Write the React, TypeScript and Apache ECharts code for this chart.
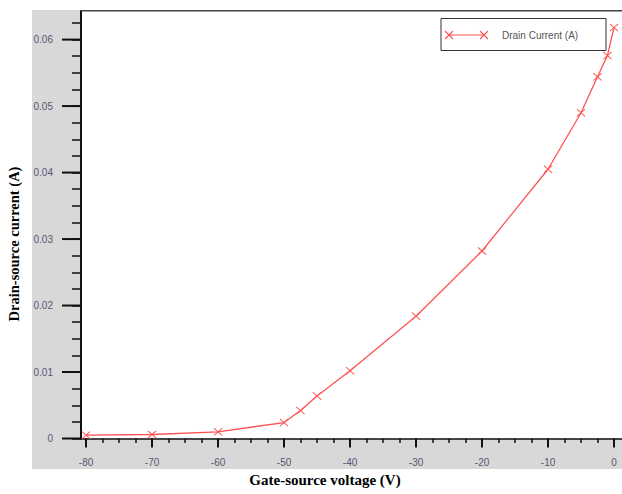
import React, { useEffect, useRef } from "react";
import * as echarts from "echarts";

// Gate-source voltage (V)
const gateVoltage = [-80, -70, -60, -50, -47.5, -45, -40, -30, -20, -10, -5, -2.5, -1, 0];
// Drain current (A)
const drainCurrent = [0.0005, 0.0006, 0.001, 0.0024, 0.0042, 0.0064, 0.0102, 0.0184, 0.0282, 0.0405, 0.049, 0.0544, 0.0576, 0.0618];

const xMajorTicks = [-80, -70, -60, -50, -40, -30, -20, -10, 0];
const xMinorTicks = [-80, -77.5, -75, -72.5, -70, -67.5, -65, -62.5, -60, -57.5, -55, -52.5, -50, -47.5, -45, -42.5, -40, -37.5, -35, -32.5, -30, -27.5, -25, -22.5, -20, -17.5, -15, -12.5, -10, -7.5, -5, -2.5, 0];
const yMajorTicks = [0, 0.01, 0.02, 0.03, 0.04, 0.05, 0.06];
const yMinorTicks = [0, 0.0025, 0.005, 0.0075, 0.01, 0.0125, 0.015, 0.0175, 0.02, 0.0225, 0.025, 0.0275, 0.03, 0.0325, 0.035, 0.0375, 0.04, 0.0425, 0.045, 0.0475, 0.05, 0.0525, 0.055, 0.0575, 0.06, 0.0625];

const seriesName = "Drain Current (A)";
const xTitle = "Gate-source voltage (V)";
const yTitle = "Drain-source current (A)";

const X_MIN = -80.76;
const X_MAX = 1.21;
const Y_MIN = 0;
const Y_MAX = 0.0643;

const RED = "#ff5252";
const TICK = "#111";
const LABEL_COLOR = "#5a5572";
const X_SYMBOL = "path://M0,0.8L0.8,0L5,4.2L9.2,0L10,0.8L5.8,5L10,9.2L9.2,10L5,5.8L0.8,10L0,9.2L4.2,5Z";

export default function App() {
  const ref = useRef<HTMLDivElement>(null);

  useEffect(() => {
    if (!ref.current) return;
    const chart = echarts.init(ref.current, null, { renderer: "svg" });

    const labelStyle = {
      color: LABEL_COLOR,
      fontSize: 10,
      fontFamily: "Liberation Sans, Arial, sans-serif",
    };

    const option: any = {
      animation: false,
      backgroundColor: "transparent",
      grid: {
        left: 81,
        right: 0,
        top: 11,
        bottom: 55.5,
        show: true,
        backgroundColor: "#ffffff",
        borderWidth: 0,
      },
      xAxis: {
        type: "value",
        min: X_MIN,
        max: X_MAX,
        position: "bottom",
        axisLine: { show: true, onZero: false, lineStyle: { color: TICK, width: 1.5 } },
        axisTick: { show: true, customValues: xMinorTicks, length: 4.5, lineStyle: { color: TICK, width: 1.5 } },
        axisLabel: { show: true, customValues: xMajorTicks, margin: 19, ...labelStyle },
        splitLine: { show: false },
      },
      yAxis: {
        type: "value",
        min: Y_MIN,
        max: Y_MAX,
        position: "left",
        axisLine: { show: true, onZero: false, lineStyle: { color: TICK, width: 2 } },
        axisTick: { show: true, customValues: yMinorTicks, length: 9, lineStyle: { color: TICK, width: 1.5 } },
        axisLabel: { show: true, customValues: yMajorTicks, margin: 28, ...labelStyle },
        splitLine: { show: false },
      },
      series: [
        {
          name: seriesName,
          type: "line",
          data: gateVoltage.map((v, i) => [v, drainCurrent[i]]),
          symbol: X_SYMBOL,
          symbolSize: [9, 8],
          showSymbol: true,
          lineStyle: { color: RED, width: 1.3 },
          itemStyle: { color: RED },
          clip: false,
          z: 3,
        },
        {
          name: "yMajorTicks",
          type: "custom",
          silent: true,
          clip: false,
          z: 5,
          data: yMajorTicks.map((v) => [X_MIN, v]),
          renderItem: (_params: any, api: any) => {
            const p = api.coord([X_MIN, api.value(1)]);
            return {
              type: "line",
              shape: { x1: p[0] - 19, y1: p[1], x2: p[0], y2: p[1] },
              style: { stroke: TICK, lineWidth: 2 },
            };
          },
        },
        {
          name: "xMajorTicks",
          type: "custom",
          silent: true,
          clip: false,
          z: 5,
          data: xMajorTicks.map((v) => [v, Y_MIN]),
          renderItem: (_params: any, api: any) => {
            const p = api.coord([api.value(0), Y_MIN]);
            return {
              type: "line",
              shape: { x1: p[0], y1: p[1], x2: p[0], y2: p[1] + 9 },
              style: { stroke: TICK, lineWidth: 2 },
            };
          },
        },
      ],
      graphic: [
        {
          type: "line",
          shape: { x1: 81, y1: 10.8, x2: 622, y2: 10.8 },
          style: { stroke: "#444", lineWidth: 1.6 },
          z: 10,
        },
        {
          type: "rect",
          shape: { x: 441, y: 18.5, width: 165, height: 32 },
          style: { fill: "#ffffff", stroke: "#333", lineWidth: 1 },
          z: 10,
        },
        {
          type: "line",
          shape: { x1: 449, y1: 35, x2: 484, y2: 35 },
          style: { stroke: RED, lineWidth: 1.2 },
          z: 11,
        },
        {
          type: "line",
          shape: { x1: 445, y1: 31, x2: 453, y2: 39 },
          style: { stroke: RED, lineWidth: 1.1 },
          z: 11,
        },
        {
          type: "line",
          shape: { x1: 445, y1: 39, x2: 453, y2: 31 },
          style: { stroke: RED, lineWidth: 1.1 },
          z: 11,
        },
        {
          type: "line",
          shape: { x1: 480, y1: 31, x2: 488, y2: 39 },
          style: { stroke: RED, lineWidth: 1.1 },
          z: 11,
        },
        {
          type: "line",
          shape: { x1: 480, y1: 39, x2: 488, y2: 31 },
          style: { stroke: RED, lineWidth: 1.1 },
          z: 11,
        },
        {
          type: "text",
          x: 502,
          y: 35,
          z: 11,
          style: {
            text: seriesName,
            fill: "#555",
            font: "10px 'Liberation Sans', Arial, sans-serif",
            textAlign: "left",
            textVerticalAlign: "middle",
            align: "left",
            verticalAlign: "middle",
          },
        },
        {
          type: "text",
          x: 325,
          y: 480,
          style: {
            text: xTitle,
            fill: "#000",
            font: "bold 15px 'Liberation Serif', 'Times New Roman', serif",
            textAlign: "center",
            textVerticalAlign: "middle",
            align: "center",
            verticalAlign: "middle",
          },
        },
        {
          type: "text",
          x: 13.5,
          y: 244,
          rotation: Math.PI / 2,
          style: {
            text: yTitle,
            fill: "#000",
            font: "bold 14.5px 'Liberation Serif', 'Times New Roman', serif",
            textAlign: "center",
            textVerticalAlign: "middle",
            align: "center",
            verticalAlign: "middle",
          },
        },
      ],
    };

    chart.setOption(option);
    return () => chart.dispose();
  }, []);

  return (
    <div style={{ position: "fixed", left: 0, top: 0, width: 622, height: 494, background: "#ffffff" }}>
      <div
        style={{
          position: "absolute",
          left: 32,
          top: 10,
          width: 590,
          height: 458.5,
          background: "#d8d8d8",
        }}
      />
      <div ref={ref} style={{ position: "absolute", left: 0, top: 0, width: 622, height: 494 }} />
    </div>
  );
}
